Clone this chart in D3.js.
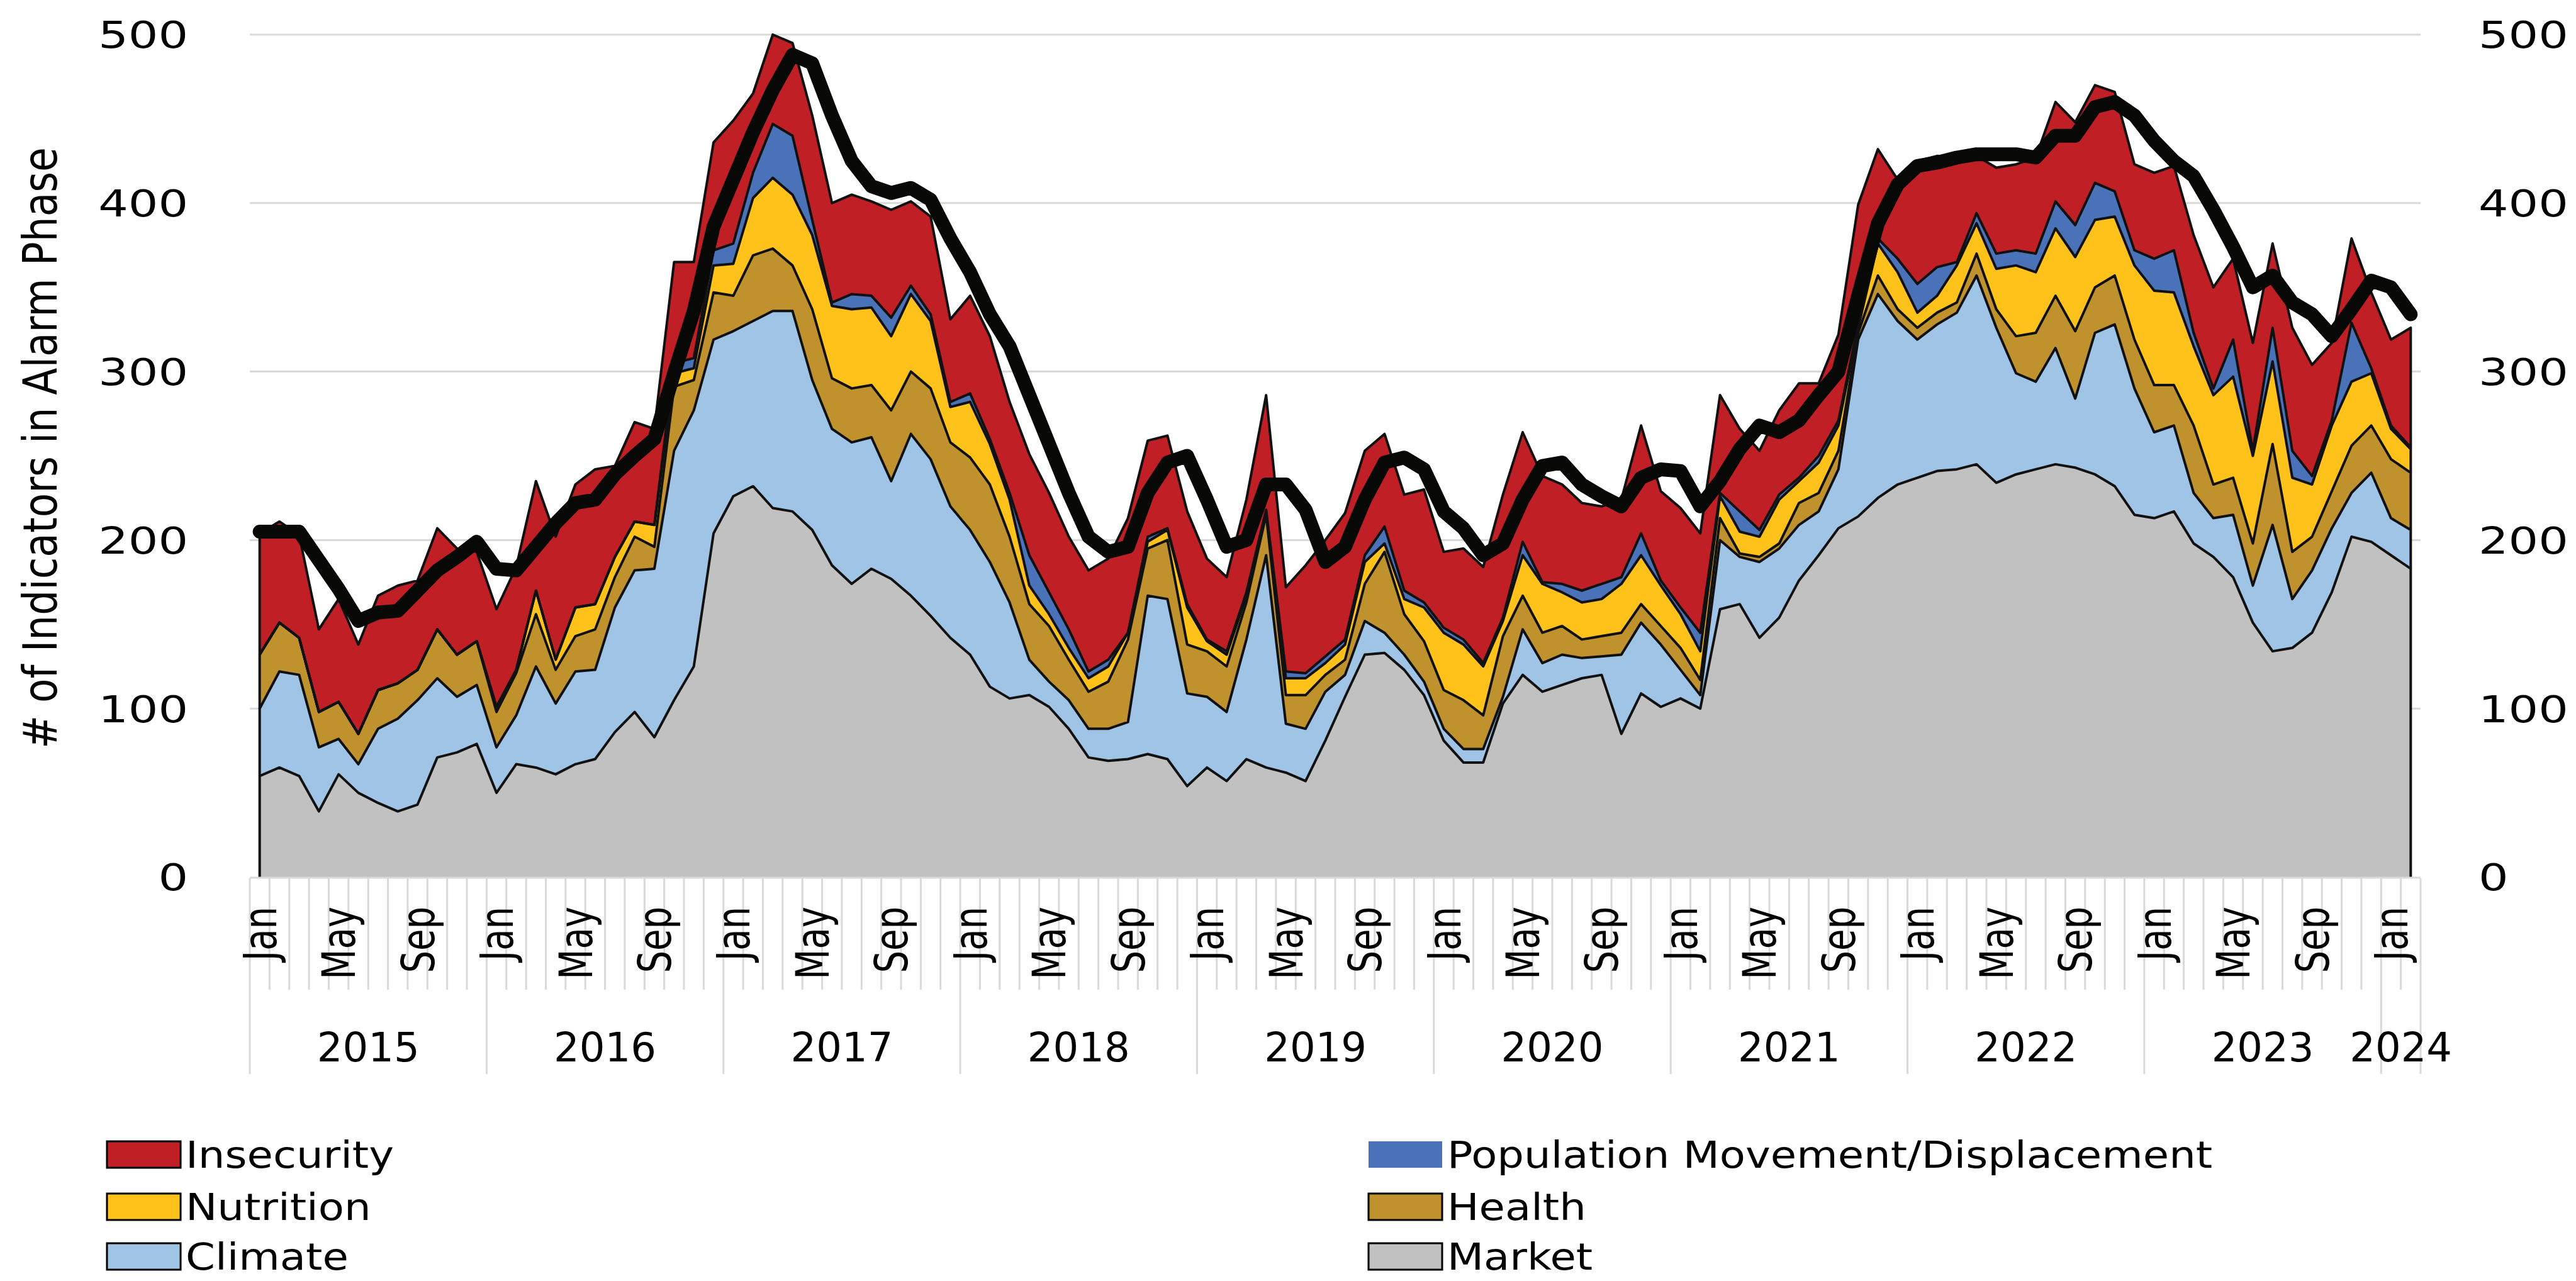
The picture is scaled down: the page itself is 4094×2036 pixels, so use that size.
<!DOCTYPE html>
<html>
<head>
<meta charset="utf-8">
<script src="https://cdn.jsdelivr.net/npm/d3@7"></script>
<style>
  body { margin: 0; background: #fff; }
  svg { display: block; }
  text { font-family: "DejaVu Sans", sans-serif; fill: #000; }
</style>
</head>
<body>
<div id="chart"></div>
<script>
const width = 4094;
const height = 2036;

// categories: Jan 2015 .. Feb 2024
const years = [2015, 2016, 2017, 2018, 2019, 2020, 2021, 2022, 2023, 2024];
const monthNames = ["Jan", "Feb", "Mar", "Apr", "May", "Jun", "Jul", "Aug", "Sep", "Oct", "Nov", "Dec"];
const monthsInLastYear = 2;
const yTicks = [0, 100, 200, 300, 400, 500];

// series values (stacked bottom -> top)
const market = [60,65,60,39,61,50,44,39,43,71,74,79,
  50,67,65,61,67,70,86,98,83,105,125,204,
  226,232,219,217,206,185,174,183,177,167,155,142,
  132,113,106,108,101,88,71,69,70,73,70,54,
  65,57,70,65,62,57,81,107,132,133,123,108,
  81,68,68,103,120,110,114,118,120,85,109,101,
  106,100,159,162,142,154,176,191,207,214,225,233,
  237,241,242,245,234,239,242,245,243,239,232,215,
  213,217,198,190,178,151,134,136,145,169,202,199,
  191,183];
const climate = [40,57,60,38,21,17,44,55,62,47,33,35,
  27,29,60,42,55,53,74,84,100,148,152,115,
  98,98,117,119,89,81,84,78,58,96,93,78,
  74,74,57,21,15,17,17,19,22,94,95,55,
  42,41,71,126,29,31,29,13,20,12,9,8,
  7,8,8,4,27,17,18,12,11,47,42,37,
  17,8,41,28,45,41,33,26,35,105,121,97,
  82,87,93,112,92,60,52,69,41,84,96,75,
  51,51,30,23,37,22,75,29,37,38,26,41,
  22,23];
const health = [32,29,22,21,22,18,23,21,18,29,25,26,
  21,25,31,20,21,24,18,20,13,38,18,28,
  21,39,37,27,42,30,32,31,42,37,42,38,
  43,46,39,33,33,24,22,28,49,28,35,29,
  27,27,22,24,17,20,10,9,22,48,24,24,
  23,29,20,36,20,18,17,11,12,13,11,11,
  13,9,13,2,3,3,13,11,11,4,11,7,
  7,7,6,13,11,22,29,31,40,27,29,29,
  28,24,40,20,22,25,48,28,20,22,28,28,
  35,34];
const nutrition = [0,0,0,0,0,0,0,0,0,0,0,0,
  3,2,14,6,17,15,12,9,13,8,7,16,
  19,34,42,42,44,43,47,46,44,46,40,21,
  33,24,22,11,7,7,8,9,4,4,6,22,
  6,7,4,1,10,10,7,9,13,5,9,20,
  34,33,29,9,24,29,20,22,22,29,29,24,
  20,17,13,13,12,26,13,18,15,3,19,22,
  9,10,22,18,24,42,36,40,44,40,35,44,
  56,55,47,53,60,52,49,44,31,39,38,31,
  18,14];
const popMovement = [0,0,0,0,0,0,0,0,0,0,0,0,
  0,0,0,0,0,0,0,0,0,6,6,9,
  12,15,32,35,9,2,9,7,11,5,4,3,
  5,3,4,18,13,11,4,4,0,3,1,2,
  1,2,2,2,4,3,4,3,4,10,5,3,
  3,3,2,2,8,1,5,7,9,4,13,3,
  4,11,2,12,4,3,2,4,3,2,3,8,
  17,17,2,6,9,9,11,16,19,22,15,9,
  19,25,8,4,22,3,20,16,5,3,35,3,
  2,1];
const insecurity = [72,60,61,49,61,53,56,58,53,60,63,53,
  58,61,65,73,73,80,54,59,57,60,57,64,
  73,47,53,55,62,59,59,56,64,50,58,49,
  58,61,54,60,59,55,60,60,68,57,55,55,
  48,44,55,68,50,64,69,75,62,55,57,67,
  45,54,57,73,65,63,59,52,46,46,64,53,
  59,59,58,49,47,50,56,43,51,71,53,47,
  73,66,62,34,51,51,57,59,61,58,59,51,
  51,50,58,60,48,64,50,73,66,46,50,45,
  51,71];
// thick black trend line
const trend = [205,205,205,188,171,152,157,158,170,182,190,199,
  183,182,196,210,222,224,239,250,260,299,336,386,
  414,442,467,488,483,452,425,410,406,409,402,379,
  359,334,315,286,257,228,202,193,196,228,246,250,
  224,196,200,233,233,218,187,196,224,246,249,242,
  217,207,191,198,224,244,246,233,226,220,237,242,
  241,220,235,254,268,264,271,286,300,345,388,411,
  422,424,427,429,429,429,427,440,440,457,460,452,
  437,425,416,396,374,350,357,341,334,321,337,354,
  350,334];

const seriesNames = ["Market", "Climate", "Health", "Nutrition", "Population Movement/Displacement", "Insecurity"];
const seriesColors = ["#c0c1c0", "#a0c4e6", "#c0922e", "#ffc21a", "#4a72b8", "#c01f26"];
const seriesValues = [market, climate, health, nutrition, popMovement, insecurity];

const categories = [];
years.forEach((yr, yi) => {
    const n = yi === years.length - 1 ? monthsInLastYear : 12;
    for (let m = 0; m < n; m++) categories.push({ year: yr, month: monthNames[m], m: m });
});

const rows = categories.map((c, i) => {
    const r = { i: i };
    seriesNames.forEach((s, k) => r[s] = seriesValues[k][i]);
    return r;
});

const SX = 1.29;   // horizontal stretch of the lettering

const svg = d3.select("#chart")
    .append("svg")
    .attr("width", width)
    .attr("height", height);

const x = d3.scaleBand()
    .domain(d3.range(categories.length))
    .range([397, 3847])
    .paddingInner(0)
    .paddingOuter(0);
const xc = i => x(i) + x.bandwidth() / 2;

const y = d3.scaleLinear()
    .domain([0, 500])
    .range([1394, 55]);

// gridlines
svg.append("g")
    .selectAll("line")
    .data(yTicks.filter(t => t > 0))
    .join("line")
    .attr("x1", 397).attr("x2", 3847)
    .attr("y1", d => y(d)).attr("y2", d => y(d))
    .attr("stroke", "#d9d9d9")
    .attr("stroke-width", 3);

// stacked areas
const stack = d3.stack().keys(seriesNames);
const layers = stack(rows);

const area = d3.area()
    .x((d, i) => xc(i))
    .y0(d => y(d[0]))
    .y1(d => y(d[1]));

svg.append("g")
    .selectAll("path")
    .data(layers)
    .join("path")
    .attr("d", area)
    .attr("fill", (d, k) => seriesColors[k]);

const outline = d3.line();
svg.append("g")
    .selectAll("path")
    .data(layers)
    .join("path")
    .attr("d", L => {
        const n = L.length - 1;
        const pts = [[xc(0), y(L[0][0])]];
        L.forEach((d, i) => pts.push([xc(i), y(d[1])]));
        pts.push([xc(n), y(L[n][0])]);
        return outline(pts);
    })
    .attr("fill", "none")
    .attr("stroke", "#111")
    .attr("stroke-width", 4)
    .attr("stroke-linejoin", "round");

// trend line
svg.append("path")
    .datum(trend)
    .attr("d", d3.line().x((d, i) => xc(i)).y(d => y(d)))
    .attr("fill", "none")
    .attr("stroke", "#080806")
    .attr("stroke-width", 22)
    .attr("stroke-linejoin", "round")
    .attr("stroke-linecap", "round");

// y axes
const axL = svg.append("g")
    .attr("transform", "translate(397,0)")
    .call(d3.axisLeft(y).tickValues(yTicks).tickSize(0));
axL.select(".domain").remove();
axL.selectAll("text")
    .attr("x", -98 / SX)
    .attr("dy", "0.36em")
    .attr("transform", `scale(${SX},1)`)
    .style("font-size", "58px")
    .style("font-family", "DejaVu Sans");

const axR = svg.append("g")
    .attr("transform", "translate(3847,0)")
    .call(d3.axisRight(y).tickValues(yTicks).tickSize(0));
axR.select(".domain").remove();
axR.selectAll("text")
    .attr("x", 92 / SX)
    .attr("dy", "0.36em")
    .attr("transform", `scale(${SX},1)`)
    .style("font-size", "58px")
    .style("font-family", "DejaVu Sans");

// y title
svg.append("text")
    .attr("transform", `translate(64,712) scale(1.2,1) rotate(-90)`)
    .attr("text-anchor", "middle")
    .attr("dy", "0.35em")
    .style("font-size", "63px")
    .text("# of Indicators in Alarm Phase");

// category axis: baseline, tick lines, month and year labels
svg.append("line")
    .attr("x1", 397).attr("x2", 3847)
    .attr("y1", 1395).attr("y2", 1395)
    .attr("stroke", "#d9d9d9").attr("stroke-width", 3);

const bounds = d3.range(categories.length + 1);
svg.append("g")
    .selectAll("line")
    .data(bounds)
    .join("line")
    .attr("x1", k => 397 + k * x.bandwidth())
    .attr("x2", k => 397 + k * x.bandwidth())
    .attr("y1", 1396)
    .attr("y2", k => (k % 12 === 0 || k === categories.length) ? 1707 : 1573)
    .attr("stroke", "#d9d9d9")
    .attr("stroke-width", 3);

svg.append("g")
    .selectAll("text")
    .data(categories.filter(c => c.m % 4 === 0))
    .join("text")
    .attr("transform", c => `translate(${xc(categories.indexOf(c))},1441) scale(${SX},1) rotate(-90)`)
    .attr("text-anchor", "end")
    .attr("dy", "0.36em")
    .style("font-size", "56px")
    .text(c => c.month);

svg.append("g")
    .selectAll("text")
    .data(years)
    .join("text")
    .attr("x", yr => {
        const idx = categories.map((c, i) => c.year === yr ? i : -1).filter(i => i >= 0);
        return (x(idx[0]) + x(idx[idx.length - 1]) + x.bandwidth()) / 2;
    })
    .attr("y", 1687)
    .attr("text-anchor", "middle")
    .style("font-size", "64px")
    .text(d => d);

// legend
const legendItems = [
    { name: "Insecurity", col: 0, row: 0 },
    { name: "Population Movement/Displacement", col: 1, row: 0 },
    { name: "Nutrition", col: 0, row: 1 },
    { name: "Health", col: 1, row: 1 },
    { name: "Climate", col: 0, row: 2 },
    { name: "Market", col: 1, row: 2 }
];
const legendX = [170, 2175];
const legendBase = [1856, 1939, 2018];

const lg = svg.append("g")
    .selectAll("g")
    .data(legendItems)
    .join("g")
    .attr("transform", d => `translate(${legendX[d.col]},${legendBase[d.row]})`);

lg.append("rect")
    .attr("x", 0).attr("y", -42)
    .attr("width", 117).attr("height", 42)
    .attr("fill", d => seriesColors[seriesNames.indexOf(d.name)])
    .attr("stroke", d => d.name.startsWith("Population") ? "none" : "#000")
    .attr("stroke-width", 3);

lg.append("text")
    .attr("transform", `translate(125,0) scale(1.16,1)`)
    .style("font-size", "58px")
    .text(d => d.name);
</script>
</body>
</html>
